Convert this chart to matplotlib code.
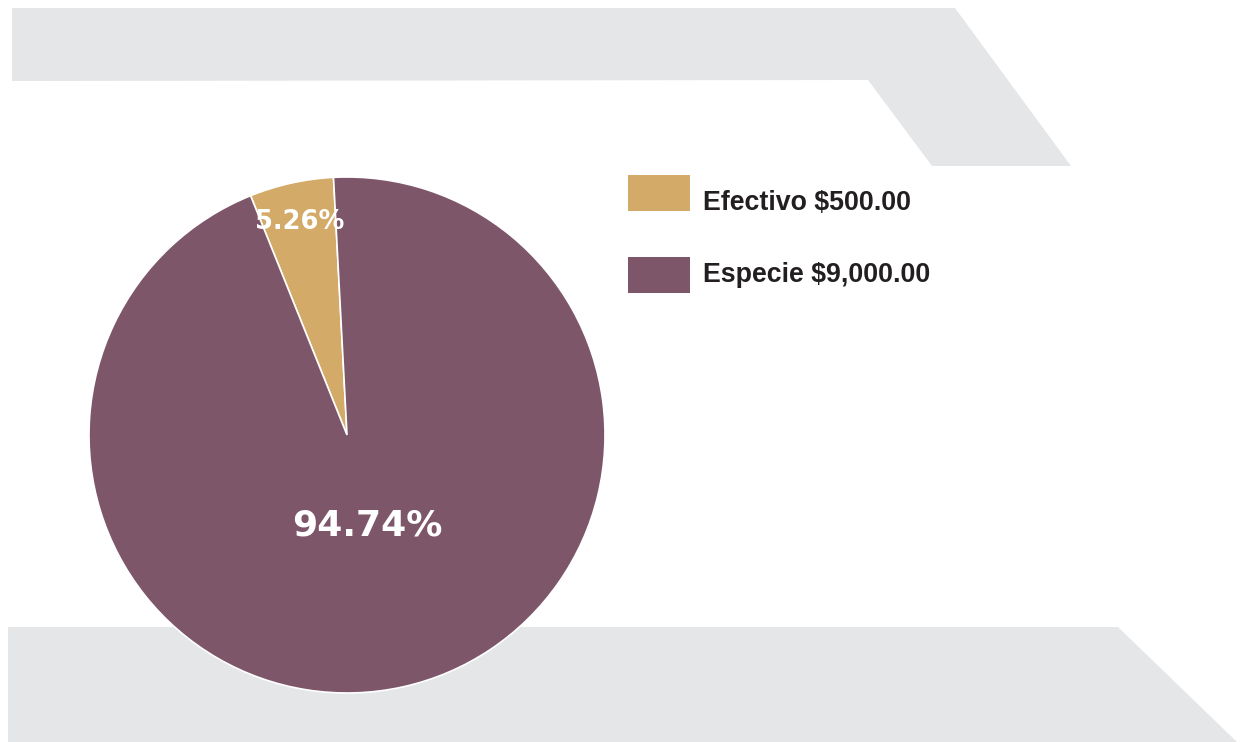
import numpy as np
import matplotlib.pyplot as plt
from matplotlib.patches import Polygon, Rectangle

# Data
labels = ["Efectivo $500.00", "Especie $9,000.00"]
values = [500, 9000]
colors = ["#D3AA67", "#7E5669"]
gray = "#E5E6E8"

W, H = 1241, 742
fig = plt.figure(figsize=(W / 100, H / 100), dpi=100)
ax = fig.add_axes([0, 0, 1, 1])

# background shapes (pixel coords, y flipped)
top = [(12, 8), (955, 8), (1071, 166), (932, 166), (868, 80), (12, 81)]
bottom = [(8, 627), (1118, 627), (1237, 742), (8, 742)]
for shape in (top, bottom):
    ax.add_patch(Polygon([(x, H - y) for x, y in shape], closed=True,
                         facecolor=gray, edgecolor="none", zorder=0))

# Pie
cx, cy, r = 347, H - 435, 258
wedges, _ = ax.pie(values, colors=colors, startangle=93, counterclock=True,
                   center=(cx, cy), radius=r, frame=True,
                   wedgeprops=dict(edgecolor="white", linewidth=1.2))
ax.set_xlim(0, W)
ax.set_ylim(0, H)
ax.set_aspect("equal")
ax.axis("off")

total = sum(values)
dist = [0.845, 0.36]
sizes = [18.5, 26]
for w, v, d, s in zip(wedges, values, dist, sizes):
    ang = np.deg2rad((w.theta1 + w.theta2) / 2)
    ax.text(cx + d * r * np.cos(ang), cy + d * r * np.sin(ang),
            "%.2f%%" % (100 * v / total), color="white", fontsize=s,
            fontweight="bold", family="DejaVu Sans", ha="center", va="center")

# Legend
box_top = [175, 257]
text_base = [210, 282]
for lab, c, yb, yt in zip(labels, colors, box_top, text_base):
    ax.add_patch(Rectangle((628, H - yb - 36), 62, 36, facecolor=c, edgecolor="none"))
    ax.text(703, H - yt, lab, fontsize=19.3, fontweight="bold", color="#231F20",
            family=["Liberation Sans", "DejaVu Sans"], ha="left", va="baseline")

fig.savefig("out.png", dpi=100)
